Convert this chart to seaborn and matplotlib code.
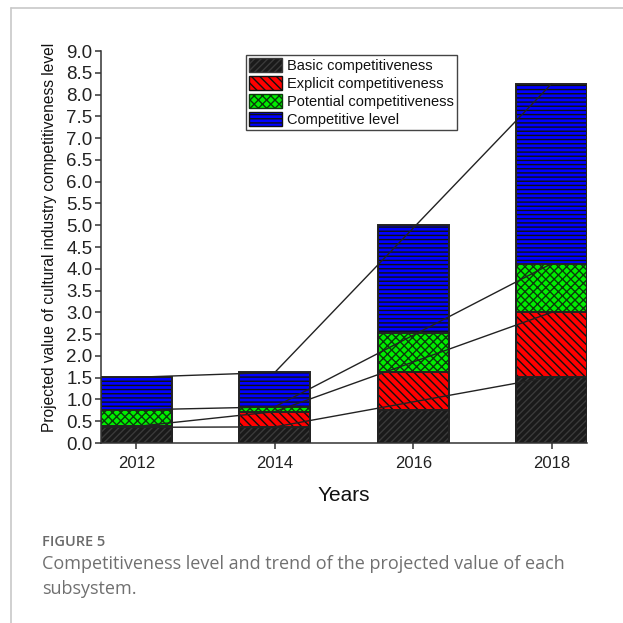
import numpy as np
import pandas as pd
import matplotlib
matplotlib.use("Agg")
import matplotlib.pyplot as plt
import seaborn as sns
from matplotlib.patches import Patch
from matplotlib.lines import Line2D

# ---- data ----
years = [2012, 2014, 2016, 2018]
basic = [0.36, 0.37, 0.76, 1.52]
explicit = [0.02, 0.35, 0.88, 1.48]
potential = [0.38, 0.11, 0.88, 1.12]
competitive = [0.75, 0.79, 2.49, 4.13]
series_names = ["Basic competitiveness", "Explicit competitiveness",
                "Potential competitiveness", "Competitive level"]
trend_years = [2012, 2014, 2018]
y_ticks = [0.0, 0.5, 1.0, 1.5, 2.0, 2.5, 3.0, 3.5, 4.0, 4.5,
           5.0, 5.5, 6.0, 6.5, 7.0, 7.5, 8.0, 8.5, 9.0]

# ---- style ----
sns.set_theme(style="ticks")
plt.rcParams["font.family"] = ["Liberation Sans", "DejaVu Sans"]
plt.rcParams["hatch.linewidth"] = 1.0

W = 623
fig = plt.figure(figsize=(W / 100, W / 100), dpi=100)
fig.patch.set_facecolor("white")
ax = fig.add_axes([101 / W, 1 - 443 / W, (587 - 101) / W, (443 - 51) / W])

df = pd.DataFrame({"year": years, "basic": basic, "explicit": explicit,
                   "potential": potential, "competitive": competitive})
cols = ["basic", "explicit", "potential", "competitive"]
cum = df[cols].cumsum(axis=1)

fills = ["#1a1a1a", "#ff0000", "#00ee00", "#0000ff"]
hatch_cols = ["#3a3a3a", "#111111", "#0b3b0b", "#111111"]
hatches = ["/////", "\\\\\\\\", "xxxx", "----"]
bw = 0.51

for i in reversed(range(4)):
    sns.barplot(x=df["year"], y=cum[cols[i]], native_scale=True, width=bw,
                color=fills[i], saturation=1, errorbar=None,
                edgecolor=hatch_cols[i], hatch=hatches[i], linewidth=0,
                ax=ax, zorder=1)
for i in reversed(range(4)):
    sns.barplot(x=df["year"], y=cum[cols[i]], native_scale=True, width=bw,
                errorbar=None, facecolor="none", edgecolor="#222222",
                linewidth=1.4, ax=ax, zorder=2)

trend = cum.set_index(df["year"]).loc[trend_years]
for c in cols:
    sns.lineplot(x=trend_years, y=trend[c].values, color="#222222",
                 linewidth=1.0, ax=ax, zorder=4, legend=False)

ax.set_xlim(years[0] - bw, years[-1] + bw)
ax.set_ylim(0, 9)
ax.set_xticks(years)
ax.set_xticklabels([str(y) for y in years])
ax.set_yticks(y_ticks)
ax.set_yticklabels([f"{v:.1f}" for v in y_ticks])
ax.tick_params(axis="both", direction="out", length=4.5, width=1.1,
               color="#333333", labelcolor="#222222")
ax.tick_params(axis="y", pad=1.5, labelsize=13.5)
ax.tick_params(axis="x", pad=5, labelsize=12)
for s in ["top", "right"]:
    ax.spines[s].set_visible(False)
for s in ["left", "bottom"]:
    ax.spines[s].set_color("#333333")
    ax.spines[s].set_linewidth(1.1)

ax.set_ylabel("Projected value of cultural industry competitiveness level",
              fontsize=11.2, color="#111111")
ax.yaxis.set_label_coords(-0.09, 0.525)
ax.set_xlabel("Years", fontsize=15, color="#111111", labelpad=11)

handles = [Patch(facecolor=fills[i], edgecolor=hatch_cols[i], hatch=hatches[i],
                 linewidth=1.0) for i in range(4)]
leg = ax.legend(handles, series_names, loc="upper left",
                bbox_to_anchor=(0.298, 0.99), fontsize=10.5, frameon=True,
                fancybox=False, edgecolor="#444444", framealpha=1,
                handlelength=2.25, handleheight=1.1, labelspacing=0.22,
                handletextpad=0.4, borderpad=0.2, borderaxespad=0)
leg.get_frame().set_linewidth(1.0)
for t in leg.get_texts():
    t.set_color("#111111")

# page frame
fig.add_artist(Line2D([11 / W, 11 / W], [0, 1 - 8 / W], transform=fig.transFigure,
                      color="#c8c8c8", linewidth=1.2))
fig.add_artist(Line2D([11 / W, 1], [1 - 8 / W, 1 - 8 / W], transform=fig.transFigure,
                      color="#c8c8c8", linewidth=1.2))

cap_font = ["Open Sans", "DejaVu Sans"]
fig.text(42 / W, 1 - 535 / W, "FIGURE 5", family=cap_font, fontsize=10.5,
         fontweight="semibold", color="#6a6a6a", va="top", ha="left")
fig.text(42 / W, 1 - 555 / W,
         "Competitiveness level and trend of the projected value of each\nsubsystem.",
         family=cap_font, fontsize=13, color="#707070", va="top", ha="left",
         linespacing=1.5)

fig.savefig("out.png", dpi=100)
